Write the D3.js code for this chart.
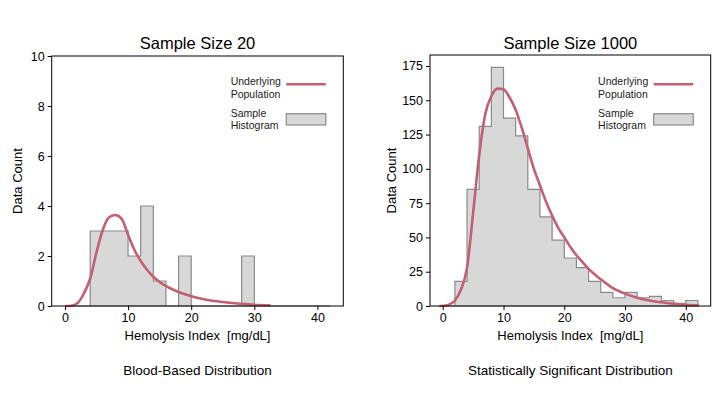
<!DOCTYPE html>
<html>
<head>
<meta charset="utf-8">
<script src="https://cdn.jsdelivr.net/npm/d3@7"></script>
<style>
  html, body { margin: 0; padding: 0; background: #fff; }
  svg { display: block; font-family: "Liberation Sans", Arial, Helvetica, sans-serif; }
</style>
</head>
<body>
<svg id="chart" width="720" height="405"></svg>
<script>
// ---------------- DATA ----------------
const binEdges = [0,2,4,6,8,10,12,14,16,18,20,22,24,26,28,30,32,34,36,38,40,42];

const countsSmall = [0,0,3,3,3,2,4,1,0,2,0,0,0,0,2,0,0,0,0,0,0];
const countsLarge = [0,18,85,131,174,137,124,85,65,48,35,28,18,10,6,10,6,7,4,2,4];

// Underlying population curve (scaled to counts)
const curveSmallX = [0.2, 1, 2, 3, 4, 5, 6, 7, 8, 9, 10, 11, 12, 13, 14, 15, 16, 17, 18, 19, 20, 22, 24, 26, 28, 30, 32.4];
const curveSmallY = [0, 0.01, 0.12, 0.5, 1.1, 2.15, 3.05, 3.55, 3.64, 3.48, 2.85, 2.25, 1.8, 1.45, 1.17, 0.96, 0.8, 0.67, 0.56, 0.47, 0.39, 0.27, 0.19, 0.13, 0.09, 0.05, 0.03];

const curveLargeX = [-0.4, 0.5, 1, 2, 3, 4, 5, 6, 7, 8, 9, 10, 11, 12, 13, 14, 15, 16, 17, 18, 19, 20, 21, 22, 23, 24, 26, 28, 30, 32, 34, 36, 38, 40, 42];
const curveLargeY = [0, 0.3, 1, 4, 12, 28, 68, 110, 140, 153, 158.5, 158, 152, 143, 130, 115, 100, 88, 76, 66, 57, 50, 43, 37, 32, 27, 19.5, 13, 9, 6, 4, 2.7, 1.6, 0.9, 0.5];

const xTicks = [0, 10, 20, 30, 40];
const yTicksSmall = [0, 2, 4, 6, 8, 10];
const yTicksLarge = [0, 25, 50, 75, 100, 125, 150, 175];

const titles = ["Sample Size 20", "Sample Size 1000"];
const captions = ["Blood-Based Distribution", "Statistically Significant Distribution"];
const xLabel = "Hemolysis Index  [mg/dL]";
const yLabel = "Data Count";
const legendLabels = [["Underlying", "Population"], ["Sample", "Histogram"]];

// ---------------- LAYOUT ----------------
const panels = [
  { left: 51.7, right: 343.3, top: 56, bottom: 306, yMax: 10, yTicks: yTicksSmall, counts: countsSmall, cx: curveSmallX, cy: curveSmallY, title: titles[0], caption: captions[0], ylabX: 17 },
  { left: 430, right: 710.7, top: 55, bottom: 306, yMax: 183, yTicks: yTicksLarge, counts: countsLarge, cx: curveLargeX, cy: curveLargeY, title: titles[1], caption: captions[1], ylabX: 391 }
];

const curveColor = "#c25f70";
const histFill = "#d8d8d8";
const histStroke = "#8a8a8a";

const svg = d3.select("#chart");

panels.forEach(p => {
  const x = d3.scaleLinear().domain([-2.1, 44.1]).range([p.left, p.right]);
  const y = d3.scaleLinear().domain([0, p.yMax]).range([p.bottom, p.top]);
  const g = svg.append("g");

  // histogram (stepfilled)
  const pts = [[binEdges[0], 0]];
  p.counts.forEach((c, i) => { pts.push([binEdges[i], c]); pts.push([binEdges[i + 1], c]); });
  pts.push([binEdges[binEdges.length - 1], 0]);
  const line = d3.line().x(d => x(d[0])).y(d => y(d[1]));
  g.append("path")
    .attr("d", line(pts) + "Z")
    .attr("fill", histFill)
    .attr("stroke", histStroke)
    .attr("stroke-width", 1.2)
    .attr("stroke-linejoin", "miter");

  // curve
  const cdata = p.cx.map((v, i) => [v, p.cy[i]]);
  g.append("path")
    .attr("d", d3.line().x(d => x(d[0])).y(d => y(d[1])).curve(d3.curveMonotoneX)(cdata))
    .attr("fill", "none")
    .attr("stroke", curveColor)
    .attr("stroke-width", 2.6)
    .attr("stroke-linecap", "round");

  // axes
  const xAxis = d3.axisBottom(x).tickValues(xTicks).tickSize(4).tickPadding(3).tickFormat(d3.format("d"));
  const yAxis = d3.axisLeft(y).tickValues(p.yTicks).tickSize(4).tickPadding(3).tickFormat(d3.format("d"));
  const gx = g.append("g").attr("transform", `translate(0,${p.bottom})`).call(xAxis);
  const gy = g.append("g").attr("transform", `translate(${p.left},0)`).call(yAxis);
  [gx, gy].forEach(a => {
    a.select(".domain").remove();
    a.selectAll("line").attr("stroke", "#000").attr("stroke-width", 1);
    a.selectAll("text").attr("fill", "#000").style("font-size", "12.5px")
      .style("font-family", '"Liberation Sans", Arial, sans-serif');
  });

  // frame
  g.append("rect")
    .attr("x", p.left).attr("y", p.top)
    .attr("width", p.right - p.left).attr("height", p.bottom - p.top)
    .attr("fill", "none").attr("stroke", "#000").attr("stroke-width", 1);

  const cxm = (p.left + p.right) / 2;
  // title
  g.append("text").attr("x", cxm).attr("y", 49).attr("text-anchor", "middle")
    .style("font-size", "16.5px").attr("fill", "#000").text(p.title);
  // x label
  g.append("text").attr("x", cxm).attr("y", 340).attr("text-anchor", "middle")
    .style("font-size", "13px").style("white-space", "pre").attr("xml:space", "preserve")
    .attr("fill", "#000").text(xLabel);
  // y label
  g.append("text").attr("transform", `translate(${p.ylabX},${(p.top + p.bottom) / 2}) rotate(-90)`)
    .attr("text-anchor", "middle").attr("dy", "0.35em")
    .style("font-size", "13px").attr("fill", "#000").text(yLabel);
  // caption
  g.append("text").attr("x", cxm).attr("y", 375).attr("text-anchor", "middle")
    .style("font-size", "13.5px").attr("fill", "#000").text(p.caption);

  // legend
  const lx1 = p.right - 57, lx2 = p.right - 17.5;
  const tx = p.right - 112.6;
  g.append("text").attr("x", tx).attr("y", 85).style("font-size", "10.5px").attr("fill", "#222").text(legendLabels[0][0]);
  g.append("text").attr("x", tx).attr("y", 97.5).style("font-size", "10.5px").attr("fill", "#222").text(legendLabels[0][1]);
  g.append("line").attr("x1", lx1).attr("x2", lx2).attr("y1", 84.3).attr("y2", 84.3)
    .attr("stroke", curveColor).attr("stroke-width", 2.6);
  g.append("text").attr("x", tx).attr("y", 116.7).style("font-size", "10.5px").attr("fill", "#222").text(legendLabels[1][0]);
  g.append("text").attr("x", tx).attr("y", 129.3).style("font-size", "10.5px").attr("fill", "#222").text(legendLabels[1][1]);
  g.append("rect").attr("x", lx1).attr("y", 113.7).attr("width", lx2 - lx1).attr("height", 11.3)
    .attr("fill", histFill).attr("stroke", histStroke).attr("stroke-width", 1.2);
});
</script>
</body>
</html>
